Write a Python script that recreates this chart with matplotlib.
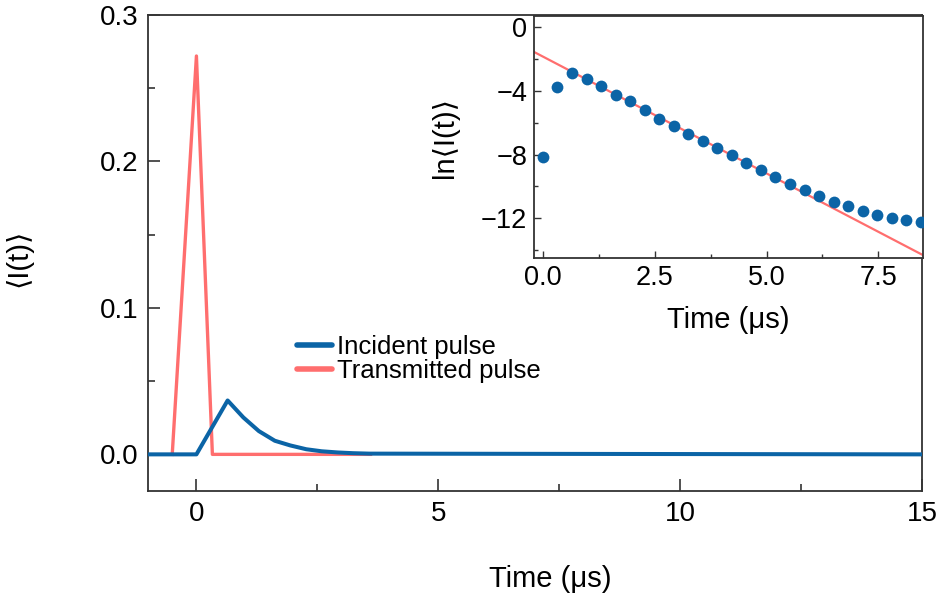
import matplotlib
matplotlib.use("Agg")
import matplotlib.pyplot as plt
from matplotlib.ticker import MultipleLocator, FixedLocator
import numpy as np

plt.rcParams["font.family"] = ["Liberation Sans", "DejaVu Sans"]
plt.rcParams["axes.unicode_minus"] = True

# incident pulse, <I(t)> vs time (us)
incident_t = [-1.0, 0.0, 0.645, 0.97, 1.29, 1.62, 1.94, 2.27, 2.59, 2.92, 3.24, 3.57, 15.0]
incident_I = [0.0, 0.0, 0.0368, 0.0252, 0.0159, 0.0093, 0.0061, 0.0035, 0.0021, 0.0013, 0.0008, 0.0005, 0.0]

# transmitted pulse
transmitted_t = [-0.5, 0.0, 0.33, 3.6]
transmitted_I = [0.0, 0.272, 0.0, 0.0]

# inset: ln<I(t)> of the incident pulse, with a straight-line fit
inset_t = [0.0, 0.325, 0.65, 0.975, 1.3, 1.625, 1.95, 2.275, 2.6, 2.925, 3.25, 3.575,
           3.9, 4.225, 4.55, 4.875, 5.2, 5.525, 5.85, 6.175, 6.5, 6.825, 7.15, 7.475,
           7.8, 8.125, 8.45]
inset_lnI = [-8.14, -3.76, -2.86, -3.24, -3.70, -4.24, -4.66, -5.22, -5.74, -6.22, -6.68,
             -7.14, -7.58, -8.04, -8.52, -8.98, -9.39, -9.85, -10.23, -10.61, -10.96,
             -11.23, -11.52, -11.80, -12.00, -12.11, -12.25]
fit_intercept = -1.85
fit_slope = -1.467

blue = "#0b64a6"
red = "#ff6e6e"
spine_col = "#333333"

fig = plt.figure(figsize=(9.43, 6.0), dpi=100)
ax = fig.add_axes([0.157, 0.1817, 0.8208, 0.7933])

ax.plot(transmitted_t, transmitted_I, color=red, lw=2.4, label="Transmitted pulse", zorder=2)
ax.plot(incident_t, incident_I, color=blue, lw=2.9, label="Incident pulse", zorder=3)

ax.set_xlim(-1, 15)
ax.set_ylim(-0.025, 0.3)
ax.xaxis.set_major_locator(FixedLocator([0, 5, 10, 15]))
ax.xaxis.set_minor_locator(FixedLocator([2.5, 7.5, 12.5]))
ax.yaxis.set_major_locator(FixedLocator([0.0, 0.1, 0.2, 0.3]))
ax.yaxis.set_minor_locator(FixedLocator([0.05, 0.15, 0.25]))
ax.set_xticklabels(["0", "5", "10", "15"])
ax.set_yticklabels(["0.0", "0.1", "0.2", "0.3"])
ax.tick_params(which="both", direction="in", width=1.2, color=spine_col, labelsize=20)
ax.tick_params(which="major", length=8.5, pad=7)
ax.tick_params(which="minor", length=4.8)
for s in ax.spines.values():
    s.set_color(spine_col)
    s.set_linewidth(1.3)

ax.set_xlabel("Time (\u03bcs)", fontsize=21)
ax.xaxis.set_label_coords(0.52, -0.155)
ax.set_ylabel("\u27e8I(t)\u27e9", fontsize=21)
ax.yaxis.set_label_coords(-0.15, 0.49)

handles, labels = ax.get_legend_handles_labels()
leg = ax.legend(handles[::-1], labels[::-1], loc="center left",
                bbox_to_anchor=(0.1925, 0.277), frameon=False, fontsize=18.5,
                handlelength=1.35, handletextpad=0.2, labelspacing=0.0,
                borderpad=0, borderaxespad=0)
for h in leg.get_lines():
    h.set_solid_capstyle("round")
    h.set_linewidth(4)

# inset panel
ins = fig.add_axes([0.5663, 0.57, 0.4125, 0.4033])
ins.scatter(inset_t, inset_lnI, s=72, color=blue, zorder=3, linewidths=0)
fit_x = np.array([-0.2, 8.5])
ins.plot(fit_x, fit_intercept + fit_slope * fit_x, color=red, lw=1.6, zorder=2)

ins.set_xlim(-0.2, 8.5)
ins.set_ylim(-14.5, 0.7)
ins.xaxis.set_major_locator(MultipleLocator(2.5))
ins.xaxis.set_minor_locator(MultipleLocator(1.25))
ins.yaxis.set_major_locator(MultipleLocator(4))
ins.yaxis.set_minor_locator(MultipleLocator(2))
ins.xaxis.set_major_formatter(plt.FuncFormatter(lambda v, p: f"{v:.1f}"))
ins.tick_params(which="both", direction="in", width=1.0, color=spine_col, labelsize=19.5)
ins.tick_params(which="major", length=5, pad=5)
ins.tick_params(which="minor", length=3)
for s in ins.spines.values():
    s.set_color(spine_col)
    s.set_linewidth(1.3)
ins.set_xlabel("Time (\u03bcs)", fontsize=21, labelpad=11)
ins.set_ylabel("ln\u27e8I(t)\u27e9", fontsize=21, labelpad=16)

fig.savefig("out.png", dpi=100)
